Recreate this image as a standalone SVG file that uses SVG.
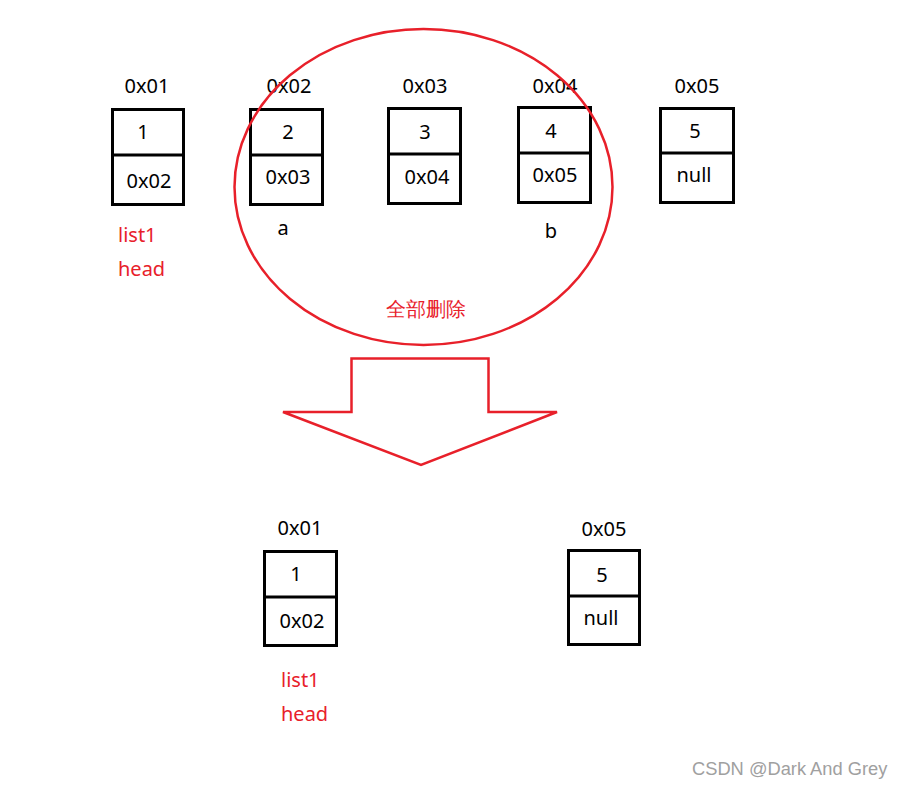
<svg xmlns="http://www.w3.org/2000/svg" width="903" height="788" viewBox="0 0 903 788">
  <style>
    .box { fill: #ffffff; stroke: #000000; stroke-width: 3; }
    .sep { stroke: #000000; stroke-width: 3; }
    .t { font-family: "Noto Sans", "Liberation Sans", sans-serif; font-size: 20px; fill: #000000; text-anchor: middle; }
    .r { font-family: "Noto Sans", "Liberation Sans", sans-serif; font-size: 20px; fill: #e8202a; }
    .mark { fill: none; stroke: #e8202a; stroke-width: 2.5; }
    .wm { font-family: "Liberation Sans", sans-serif; font-size: 18.3px; fill: #a0a0a0; }
  </style>
  <rect width="903" height="788" fill="#ffffff"/>

  <!-- original list -->
  <g id="node-0x01">
    <text class="t" x="147" y="93">0x01</text>
    <rect class="box" x="112.5" y="109.5" width="71" height="95"/>
    <line class="sep" x1="112.5" y1="155" x2="183.5" y2="155"/>
    <text class="t" x="143" y="139">1</text>
    <text class="t" x="149" y="188">0x02</text>
    <text class="r" x="118" y="242">list1</text>
    <text class="r" x="118" y="276">head</text>
  </g>
  <g id="node-0x02">
    <text class="t" x="289" y="93">0x02</text>
    <rect class="box" x="250.5" y="109.5" width="72" height="95"/>
    <line class="sep" x1="250.5" y1="155" x2="322.5" y2="155"/>
    <text class="t" x="288" y="139">2</text>
    <text class="t" x="288" y="184">0x03</text>
    <text class="t" x="283" y="235">a</text>
  </g>
  <g id="node-0x03">
    <text class="t" x="425" y="93">0x03</text>
    <rect class="box" x="388.5" y="108.5" width="72" height="95"/>
    <line class="sep" x1="388.5" y1="154" x2="460.5" y2="154"/>
    <text class="t" x="425" y="139">3</text>
    <text class="t" x="427" y="184">0x04</text>
  </g>
  <g id="node-0x04">
    <text class="t" x="555" y="93">0x04</text>
    <rect class="box" x="518.5" y="107.5" width="72" height="95"/>
    <line class="sep" x1="518.5" y1="153" x2="590.5" y2="153"/>
    <text class="t" x="551" y="138">4</text>
    <text class="t" x="555" y="182">0x05</text>
    <text class="t" x="551" y="238">b</text>
  </g>
  <g id="node-0x05">
    <text class="t" x="697" y="93">0x05</text>
    <rect class="box" x="660.5" y="108.5" width="73" height="94"/>
    <line class="sep" x1="660.5" y1="153" x2="733.5" y2="153"/>
    <text class="t" x="695" y="138">5</text>
    <text class="t" x="694" y="182">null</text>
  </g>

  <!-- marked region and transition arrow -->
  <g id="connectors">
    <ellipse class="mark" cx="423.5" cy="187" rx="189" ry="158"/>
    <text class="r" x="426" y="316" text-anchor="middle" font-size="20.5">全部删除</text>
    <polygon class="mark" stroke-width="3" points="283,412 351.5,412 351.5,358.5 488.5,358.5 488.5,412 557,412 421,465"/>
  </g>

  <!-- resulting list -->
  <g id="result-0x01">
    <text class="t" x="300" y="535">0x01</text>
    <rect class="box" x="264.5" y="551.5" width="72" height="94"/>
    <line class="sep" x1="264.5" y1="597" x2="336.5" y2="597"/>
    <text class="t" x="296" y="581">1</text>
    <text class="t" x="302" y="628">0x02</text>
    <text class="r" x="281" y="687">list1</text>
    <text class="r" x="281" y="721">head</text>
  </g>
  <g id="result-0x05">
    <text class="t" x="604" y="536">0x05</text>
    <rect class="box" x="568.5" y="550.5" width="71" height="94"/>
    <line class="sep" x1="568.5" y1="596" x2="639.5" y2="596"/>
    <text class="t" x="602" y="582">5</text>
    <text class="t" x="601" y="625">null</text>
  </g>

  <text class="wm" x="692" y="775">CSDN @Dark And Grey</text>
</svg>
